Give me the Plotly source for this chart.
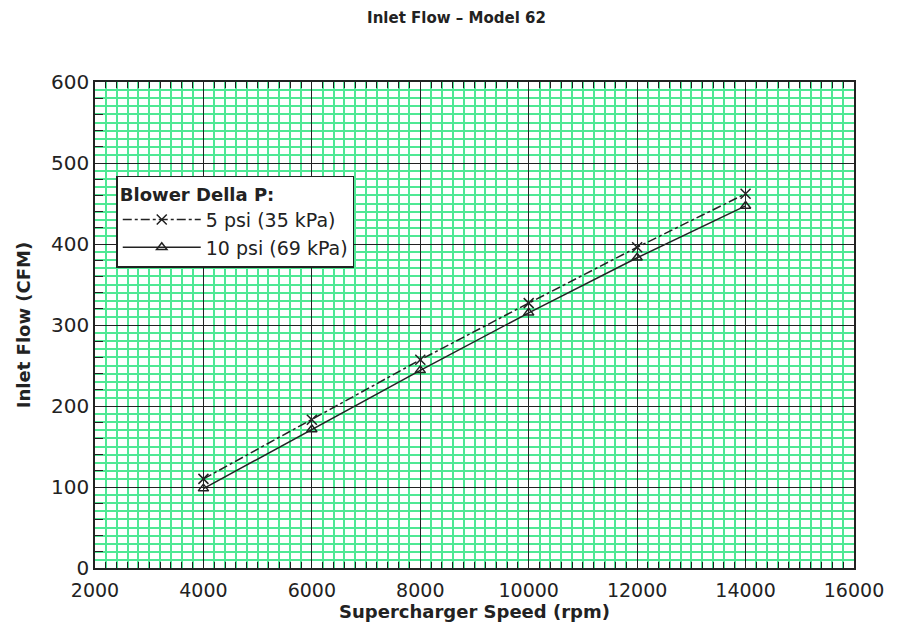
import plotly.graph_objects as go

speed_rpm = [4000, 6000, 8000, 10000, 12000, 14000]
flow_5psi = [110, 183, 257, 327, 396, 462]
flow_10psi = [98, 171, 244, 315, 383, 447]
series_names = ["5 psi (35 kPa)", "10 psi (69 kPa)"]

FONT = "DejaVu Sans"
INK = "#222222"
GREEN = "#4fe894"

fig = go.Figure()
fig.add_trace(go.Scatter(
    x=speed_rpm, y=flow_5psi, name=series_names[0], mode="lines+markers",
    line=dict(color=INK, width=1.5, dash="dashdot"),
    marker=dict(symbol="x-thin-open", size=10, color=INK, line=dict(width=1.5, color=INK)),
))
fig.add_trace(go.Scatter(
    x=speed_rpm, y=flow_10psi, name=series_names[1], mode="lines+markers",
    line=dict(color=INK, width=1.5),
    marker=dict(symbol="triangle-up-open", size=9, color=INK, line=dict(width=1.5, color=INK)),
))

# page body has an 8px margin, so the figure is sized to fit the window
fig.update_layout(
    width=897, height=626,
    margin=dict(l=87, r=51, t=74, b=66, autoexpand=False),
    paper_bgcolor="white", plot_bgcolor="white",
    font=dict(family=FONT, size=18, color=INK),
    title=dict(text="<b>Inlet Flow – Model 62</b>", x=0.5, xanchor="center",
               y=0.985, yanchor="middle", font=dict(size=15, family=FONT, color=INK)),
    showlegend=True,
    legend=dict(
        title=dict(text="<b>Blower Della P:</b>", font=dict(size=18)),
        x=0.028, y=0.807, xanchor="left", yanchor="top",
        bgcolor="white", bordercolor=INK, borderwidth=1.5,
        font=dict(size=19, family=FONT, color=INK),
        itemwidth=78, tracegroupgap=4,
    ),
    xaxis=dict(
        range=[2000, 16000], dtick=2000, tick0=2000, tickformat="d",
        showgrid=True, gridcolor=INK, gridwidth=1.3,
        showline=True, linecolor=INK, linewidth=1.5, mirror="ticks",
        ticks="inside", ticklen=8, tickcolor=INK, zeroline=False,
        ticklabelstandoff=4,
        title=dict(text="<b>Supercharger Speed (rpm)</b>", font=dict(size=18), standoff=2),
        tickfont=dict(size=19),
        minor=dict(dtick=200, showgrid=True, gridcolor=GREEN, gridwidth=2,
                   ticks="inside", ticklen=6, tickcolor=INK),
    ),
    yaxis=dict(
        range=[0, 600], dtick=100, tickformat="d",
        showgrid=True, gridcolor=INK, gridwidth=1.3,
        showline=True, linecolor=INK, linewidth=1.5, mirror="ticks",
        ticks="inside", ticklen=10, tickcolor=INK, zeroline=False,
        title=dict(text="<b>Inlet Flow (CFM)</b>", font=dict(size=18), standoff=16),
        tickfont=dict(size=20),
        minor=dict(dtick=10, showgrid=True, gridcolor=GREEN, gridwidth=2,
                   ticks="", ticklen=0),
    ),
    yaxis2=dict(
        range=[0, 600], overlaying="y", side="left", showgrid=False,
        showticklabels=False, ticks="", zeroline=False,
        showline=False, mirror="ticks",
        minor=dict(dtick=20, ticks="inside", ticklen=8, tickcolor=INK, showgrid=False),
    ),
)

# invisible trace to activate the secondary y axis (minor ticks every 20)
fig.add_trace(go.Scatter(x=[None], y=[None], yaxis="y2", showlegend=False, hoverinfo="skip"))

fig.write_html("out.html")
